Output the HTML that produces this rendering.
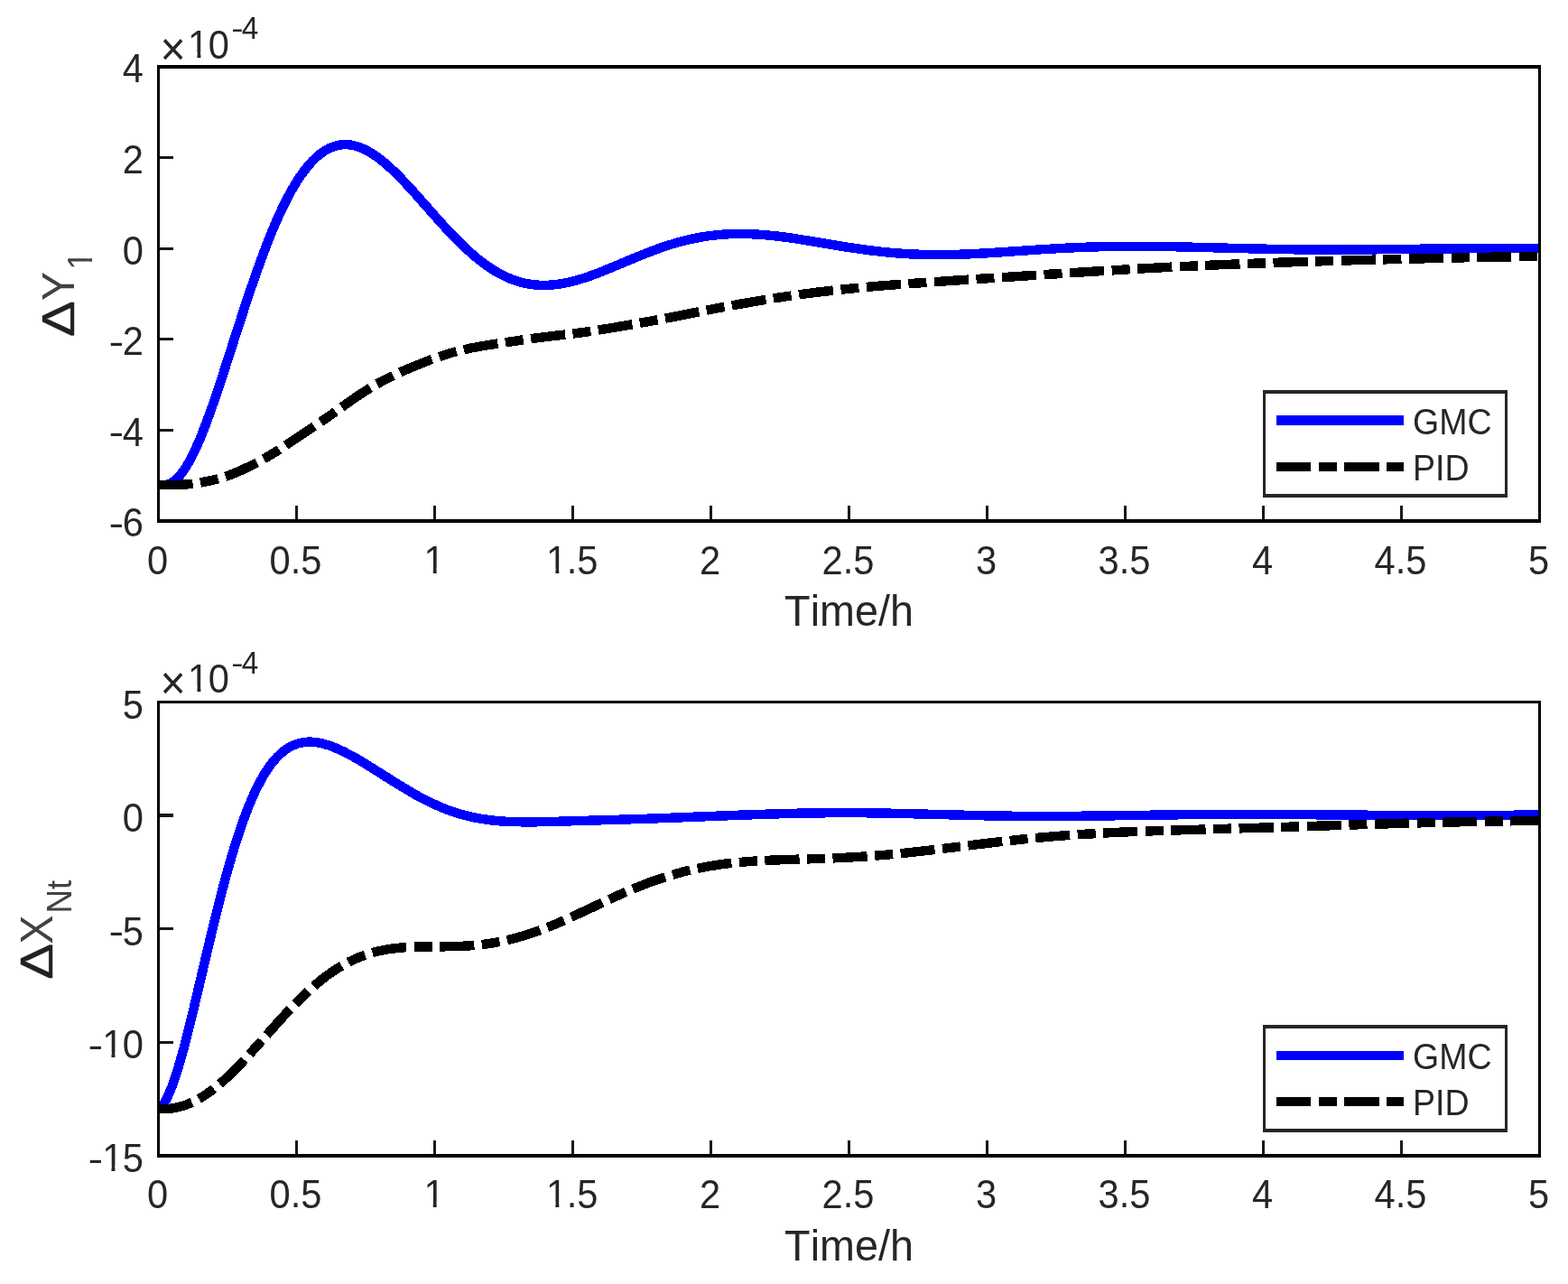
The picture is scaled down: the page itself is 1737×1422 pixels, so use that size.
<!DOCTYPE html>
<html lang="en">
<head>
<meta charset="utf-8">
<title>GMC vs PID response</title>
<style>
html,body{margin:0;padding:0;background:#fff;}
svg{display:block;}
text{font-family:"Liberation Sans", sans-serif;font-kerning:none;}
</style>
</head>
<body>
<svg width="1737" height="1422" viewBox="0 0 1737 1422">
<defs><clipPath id="one367"><path d="M-1.83,-33.76H25.66V-5.52H13.02V1.83H9.53V-5.52H-1.83Z"/></clipPath><clipPath id="one417"><path d="M-2.08,-38.38H29.17V-6.30H14.79V2.08H10.83V-6.30H-2.08Z"/></clipPath></defs>
<rect width="1737" height="1422" fill="#fff"/>
<clipPath id="c1"><rect x="175.5" y="74.0" width="1530.0" height="503.0"/></clipPath>
<g clip-path="url(#c1)" stroke="none" shape-rendering="crispEdges">
<path d="M169.5,542.2L181.5,542.2L185.2,542.1L186.5,541.8L189.4,540.7L191.0,540.0L193.9,538.4L197.4,535.8L200.1,533.3L200.7,532.7L204.0,529.0L207.2,524.8L210.4,520.0L214.1,513.8L216.6,509.1L219.7,502.9L223.3,495.2L226.3,488.1L229.4,480.7L232.4,472.9L235.4,464.8L238.4,456.5L241.4,447.9L248.0,428.6L254.0,410.2L269.0,363.5L275.5,343.5L281.5,325.4L287.4,308.0L293.9,289.9L299.4,275.3L302.4,267.7L305.8,259.1L308.8,252.0L311.8,245.2L314.7,238.6L317.7,232.3L321.2,225.3L324.1,219.6L326.6,215.1L330.0,209.1L332.9,204.3L335.9,199.8L338.8,195.5L341.7,191.6L345.0,187.4L347.9,184.1L350.7,181.1L353.5,178.4L356.3,175.9L359.1,173.8L362.2,171.7L364.6,170.2L367.3,168.9L370.3,167.6L372.9,166.7L375.5,166.1L378.1,165.6L380.8,165.4L383.4,165.4L386.0,165.5L388.7,165.9L391.7,166.5L394.4,167.3L397.1,168.3L399.9,169.4L402.7,170.7L405.5,172.2L408.3,173.8L411.1,175.6L414.0,177.6L417.3,180.1L420.2,182.3L423.1,184.7L426.0,187.3L431.9,192.6L437.8,198.4L444.2,205.0L450.1,211.4L456.1,218.0L477.6,242.3L487.1,253.0L496.2,262.7L501.8,268.4L505.3,272.0L508.9,275.5L514.5,280.7L521.1,286.6L526.7,291.2L530.3,294.1L536.5,298.6L539.6,300.7L543.2,303.1L546.3,305.0L549.5,306.8L552.6,308.5L556.3,310.3L558.8,311.5L562.0,312.9L565.1,314.2L568.2,315.3L572.0,316.5L575.1,317.5L578.3,318.3L581.4,319.0L585.2,319.7L587.7,320.1L590.9,320.5L594.1,320.8L597.8,321.0L600.9,321.1L604.1,321.1L607.8,321.0L613.5,320.6L619.7,319.9L623.4,319.3L629.6,318.1L635.8,316.6L642.0,314.9L648.1,313.0L654.7,310.8L660.8,308.6L667.4,306.1L676.0,302.6L704.0,290.9L712.9,287.2L718.9,284.9L727.8,281.5L734.2,279.2L740.1,277.2L746.5,275.2L755.3,272.7L764.2,270.5L770.5,269.1L778.9,267.5L785.2,266.5L794.0,265.5L800.4,264.9L809.2,264.4L818.5,264.2L824.4,264.2L830.3,264.4L836.2,264.6L842.1,265.0L848.0,265.5L854.5,266.1L866.3,267.5L878.7,269.2L893.7,271.6L924.6,276.8L939.7,279.2L954.8,281.4L967.4,283.0L976.4,284.0L983.0,284.7L992.1,285.5L998.1,286.0L1004.7,286.4L1013.8,286.8L1020.3,287.1L1028.9,287.3L1038.5,287.4L1050.6,287.3L1063.2,287.0L1075.2,286.5L1087.8,285.9L1099.8,285.2L1154.8,281.4L1170.3,280.5L1182.3,279.9L1197.7,279.1L1212.7,278.6L1225.6,278.3L1240.6,278.1L1252.5,278.0L1264.5,278.0L1289.4,278.2L1316.9,278.8L1374.9,280.3L1402.4,281.0L1432.9,281.5L1460.5,281.7L1488.0,281.7L1515.5,281.6L1604.6,280.7L1641.5,280.4L1675.0,280.2L1711.5,280.2L1711.5,269.8L1675.0,269.8L1641.5,269.9L1604.4,270.2L1515.5,271.1L1488.0,271.3L1460.5,271.2L1433.1,271.0L1402.6,270.5L1375.1,269.9L1317.1,268.4L1289.6,267.8L1264.5,267.5L1252.5,267.5L1240.4,267.6L1225.4,267.8L1212.3,268.2L1197.3,268.7L1181.7,269.4L1169.7,270.1L1154.2,271.0L1099.2,274.7L1087.2,275.4L1074.8,276.1L1062.8,276.5L1050.4,276.8L1038.5,276.9L1029.1,276.8L1020.7,276.6L1014.2,276.4L1005.3,275.9L998.9,275.5L992.9,275.1L984.0,274.3L977.6,273.7L968.6,272.6L956.2,271.0L941.3,268.8L926.4,266.4L895.3,261.3L880.3,258.9L867.7,257.1L855.5,255.7L849.0,255.1L842.9,254.6L836.8,254.2L830.7,253.9L824.6,253.7L818.5,253.7L814.9,253.8L808.8,253.9L799.6,254.5L793.0,255.1L783.8,256.2L777.1,257.2L768.5,258.8L761.8,260.3L752.7,262.6L743.5,265.2L736.9,267.3L730.8,269.3L724.2,271.7L715.1,275.1L709.1,277.5L700.0,281.2L672.0,292.9L663.6,296.3L657.2,298.8L651.3,300.9L644.9,303.1L639.0,304.9L633.2,306.5L627.4,307.9L621.6,309.0L618.3,309.5L612.5,310.2L606.8,310.6L603.9,310.7L601.1,310.7L598.2,310.6L594.9,310.4L592.1,310.1L589.7,309.8L586.4,309.3L583.6,308.8L580.7,308.1L577.9,307.4L575.0,306.5L571.8,305.5L568.9,304.4L566.0,303.3L563.6,302.2L560.3,300.7L557.4,299.2L554.1,297.4L548.8,294.2L545.4,292.0L542.5,290.0L537.1,286.1L533.7,283.5L527.4,278.2L524.5,275.7L519.1,270.7L512.7,264.6L509.7,261.6L503.8,255.5L497.8,249.2L491.4,242.1L485.4,235.4L467.4,215.0L460.9,207.7L451.8,197.9L445.2,191.0L439.1,185.1L433.0,179.4L429.9,176.8L426.8,174.2L423.7,171.8L420.0,169.1L416.9,166.9L413.7,164.9L410.5,163.0L407.3,161.3L404.1,159.8L400.9,158.5L397.0,157.2L393.7,156.3L390.3,155.6L387.0,155.1L384.3,155.0L380.2,155.0L376.9,155.3L374.1,155.7L372.8,156.0L370.1,156.7L366.7,157.8L362.7,159.4L359.4,161.1L356.1,163.1L352.9,165.4L349.7,167.9L345.9,171.2L342.7,174.3L340.1,177.1L337.5,180.1L333.9,184.6L330.8,188.7L327.1,194.0L324.1,198.7L321.0,203.8L317.4,210.1L314.9,214.7L311.8,220.6L308.8,226.7L305.3,234.2L302.2,240.9L299.2,247.9L296.2,255.1L293.1,262.6L289.6,271.6L284.1,286.3L277.6,304.6L274.6,313.3L268.5,331.1L259.5,358.7L241.0,416.2L235.0,434.3L232.1,443.0L228.6,453.0L225.6,461.2L222.6,469.2L219.6,476.8L216.7,484.1L213.2,492.0L210.3,498.4L207.4,504.2L204.5,509.6L201.6,514.4L198.8,518.7L196.0,522.3L193.3,525.4L190.6,527.8L187.9,529.8L185.7,531.0L183.5,531.8L183.8,531.7L169.5,531.8Z" fill="#0000ff"/>
<path d="M175.5,542.2L191.0,542.2L200.2,542.0L206.9,541.6L210.0,541.4L214.3,540.9L213.0,530.5L209.0,531.0L205.6,531.2L199.3,531.6L191.0,531.8L175.5,531.8ZM223.0,539.6L228.5,538.6L234.6,537.3L238.3,536.4L243.0,535.2L240.3,525.1L235.7,526.3L232.4,527.1L226.5,528.3L221.1,529.3ZM251.4,532.7L256.8,530.8L259.9,529.6L263.5,528.1L269.1,525.7L275.2,522.9L278.8,521.2L287.1,517.0L282.3,507.7L274.2,511.8L264.9,516.1L259.5,518.5L256.1,519.8L253.2,521.0L248.1,522.8ZM294.8,512.8L303.7,507.6L312.1,502.3L306.5,493.5L298.3,498.6L289.6,503.7ZM319.3,497.6L351.1,476.4L345.3,467.7L313.6,488.9ZM358.2,471.6L365.5,466.6L374.7,460.1L368.7,451.6L359.5,458.0L352.3,463.0ZM381.7,455.2L392.5,447.5L398.9,443.1L404.9,439.1L413.0,434.0L407.6,425.1L399.1,430.4L393.1,434.4L386.5,438.9L375.6,446.6ZM420.2,429.8L425.5,426.9L428.9,425.1L437.7,420.7L433.1,411.3L424.1,415.8L420.5,417.7L415.1,420.7ZM445.3,417.2L453.1,413.7L462.0,410.0L471.4,406.2L480.3,402.8L476.6,393.0L467.6,396.5L458.0,400.3L448.9,404.1L441.0,407.6ZM488.2,400.0L492.6,398.5L498.0,396.8L501.4,395.8L507.0,394.3L504.3,384.2L498.6,385.8L495.0,386.8L489.4,388.6L484.8,390.1ZM515.1,392.3L522.5,390.7L531.4,389.0L540.3,387.5L552.3,385.7L550.7,375.3L538.7,377.2L529.6,378.7L520.5,380.5L512.7,382.1ZM560.7,384.4L580.5,381.5L579.0,371.1L559.1,374.1ZM588.9,380.3L604.6,378.3L626.7,375.7L625.5,365.3L603.4,367.9L587.4,369.9ZM635.1,374.7L644.7,373.5L655.1,372.0L653.6,361.7L643.3,363.1L633.9,364.3ZM663.6,370.7L678.4,368.3L701.3,364.4L699.6,354.1L676.6,358.0L662.0,360.4ZM709.7,362.9L729.5,359.4L727.6,349.1L707.9,352.6ZM737.9,357.8L752.0,355.1L775.4,350.4L773.4,340.1L750.0,344.8L736.0,347.6ZM783.7,348.7L803.4,345.0L801.5,334.7L781.7,338.5ZM811.7,343.5L830.9,340.1L849.3,337.0L847.6,326.7L829.1,329.8L809.9,333.2ZM857.6,335.6L877.4,332.6L875.9,322.3L856.0,325.3ZM885.8,331.4L904.1,329.1L923.5,326.8L922.4,316.4L902.9,318.7L884.3,321.1ZM932.0,325.9L951.9,323.9L950.9,313.5L930.9,315.5ZM960.3,323.1L977.9,321.6L998.3,320.0L997.5,309.6L977.1,311.2L959.4,312.7ZM1006.8,319.4L1026.8,318.0L1026.0,307.5L1006.0,309.0ZM1035.2,317.4L1073.3,314.8L1072.6,304.4L1034.5,307.0ZM1081.8,314.3L1101.8,313.0L1101.1,302.5L1081.1,303.8ZM1110.3,312.4L1148.4,309.9L1147.7,299.5L1109.6,302.0ZM1156.9,309.4L1176.9,308.1L1176.2,297.6L1156.2,298.9ZM1185.4,307.5L1223.5,305.1L1222.8,294.7L1184.7,297.1ZM1232.0,304.6L1252.0,303.4L1251.4,293.0L1231.3,294.2ZM1260.4,302.9L1298.6,300.9L1298.0,290.4L1259.9,292.5ZM1307.0,300.5L1327.1,299.5L1326.6,289.1L1306.5,290.0ZM1335.5,299.1L1373.7,297.5L1373.3,287.1L1335.1,288.7ZM1382.2,297.2L1402.2,296.5L1401.8,286.0L1381.8,286.8ZM1410.7,296.2L1448.8,294.9L1448.5,284.5L1410.3,285.7ZM1457.3,294.7L1477.4,294.1L1477.1,283.6L1457.0,284.2ZM1485.9,293.8L1524.0,292.8L1523.8,282.4L1485.6,283.4ZM1532.5,292.6L1552.6,292.1L1552.3,281.6L1532.3,282.1ZM1561.1,291.9L1599.2,291.0L1599.0,280.6L1560.8,281.4ZM1607.7,290.8L1627.8,290.4L1627.6,279.9L1607.5,280.4ZM1636.3,290.2L1674.5,289.5L1674.3,279.1L1636.1,279.8ZM1682.9,289.4L1703.0,289.1L1702.8,278.6L1682.8,278.9ZM1711.4,289.0L1711.5,289.0L1711.5,278.6L1711.4,278.6Z" fill="#000"/>
</g>
<g fill="#000" shape-rendering="crispEdges">
<rect x="174" y="72" width="3" height="507"/>
<rect x="1704" y="72" width="3" height="507"/>
<rect x="174" y="72" width="1533" height="4"/>
<rect x="174" y="575" width="1533" height="4"/>
</g>
<g fill="#181818" shape-rendering="crispEdges">
<rect x="327.0" y="560" width="3" height="15"/>
<rect x="480.0" y="560" width="3" height="15"/>
<rect x="633.0" y="560" width="3" height="15"/>
<rect x="786.0" y="560" width="3" height="15"/>
<rect x="939.0" y="560" width="3" height="15"/>
<rect x="1092.0" y="560" width="3" height="15"/>
<rect x="1245.0" y="560" width="3" height="15"/>
<rect x="1398.0" y="560" width="3" height="15"/>
<rect x="1551.0" y="560" width="3" height="15"/>
<rect x="177" y="173" width="15" height="3"/>
<rect x="177" y="274" width="15" height="3"/>
<rect x="177" y="374" width="15" height="3"/>
<rect x="177" y="475" width="15" height="3"/>
</g>
<text transform="translate(162.91,635.80) scale(1,1.06)" font-size="41.67" text-anchor="start" fill="#262626">0</text>
<text transform="translate(298.54,635.80) scale(1,1.06)" font-size="41.67" text-anchor="start" fill="#262626">0</text><text transform="translate(321.71,635.80) scale(1,1.06)" font-size="41.67" text-anchor="start" fill="#262626" y="-0.86">.</text><text transform="translate(333.29,635.80) scale(1,1.06)" font-size="41.67" text-anchor="start" fill="#262626">5</text>
<g transform="translate(468.91,635.80) scale(1,1.044)"><text x="0.50" y="-0.88" font-size="41.67" fill="#262626" clip-path="url(#one417)" style="text-rendering:geometricPrecision">1</text></g>
<g transform="translate(604.54,635.80) scale(1,1.044)"><text x="0.50" y="-0.88" font-size="41.67" fill="#262626" clip-path="url(#one417)" style="text-rendering:geometricPrecision">1</text></g><text transform="translate(627.71,635.80) scale(1,1.06)" font-size="41.67" text-anchor="start" fill="#262626" y="-0.86">.</text><text transform="translate(639.29,635.80) scale(1,1.06)" font-size="41.67" text-anchor="start" fill="#262626">5</text>
<text transform="translate(774.91,635.80) scale(1,1.06)" font-size="41.67" text-anchor="start" fill="#262626">2</text>
<text transform="translate(910.54,635.80) scale(1,1.06)" font-size="41.67" text-anchor="start" fill="#262626">2</text><text transform="translate(933.71,635.80) scale(1,1.06)" font-size="41.67" text-anchor="start" fill="#262626" y="-0.86">.</text><text transform="translate(945.29,635.80) scale(1,1.06)" font-size="41.67" text-anchor="start" fill="#262626">5</text>
<text transform="translate(1080.91,635.80) scale(1,1.06)" font-size="41.67" text-anchor="start" fill="#262626">3</text>
<text transform="translate(1216.54,635.80) scale(1,1.06)" font-size="41.67" text-anchor="start" fill="#262626">3</text><text transform="translate(1239.71,635.80) scale(1,1.06)" font-size="41.67" text-anchor="start" fill="#262626" y="-0.86">.</text><text transform="translate(1251.29,635.80) scale(1,1.06)" font-size="41.67" text-anchor="start" fill="#262626">5</text>
<text transform="translate(1386.91,635.80) scale(1,1.06)" font-size="41.67" text-anchor="start" fill="#262626">4</text>
<text transform="translate(1522.54,635.80) scale(1,1.06)" font-size="41.67" text-anchor="start" fill="#262626">4</text><text transform="translate(1545.71,635.80) scale(1,1.06)" font-size="41.67" text-anchor="start" fill="#262626" y="-0.86">.</text><text transform="translate(1557.29,635.80) scale(1,1.06)" font-size="41.67" text-anchor="start" fill="#262626">5</text>
<text transform="translate(1692.91,635.80) scale(1,1.06)" font-size="41.67" text-anchor="start" fill="#262626">5</text>
<text transform="translate(135.83,91.40) scale(1,1.06)" font-size="41.67" text-anchor="start" fill="#262626">4</text>
<text transform="translate(135.83,192.00) scale(1,1.06)" font-size="41.67" text-anchor="start" fill="#262626">2</text>
<text transform="translate(135.83,292.60) scale(1,1.06)" font-size="41.67" text-anchor="start" fill="#262626">0</text>
<text transform="translate(120.56,391.70) scale(1.2,0.954)" font-size="41.67" text-anchor="start" fill="#262626">-</text><text transform="translate(135.83,393.20) scale(1,1.06)" font-size="41.67" text-anchor="start" fill="#262626">2</text>
<text transform="translate(120.56,492.30) scale(1.2,0.954)" font-size="41.67" text-anchor="start" fill="#262626">-</text><text transform="translate(135.83,493.80) scale(1,1.06)" font-size="41.67" text-anchor="start" fill="#262626">4</text>
<text transform="translate(120.56,592.90) scale(1.2,0.954)" font-size="41.67" text-anchor="start" fill="#262626">-</text><text transform="translate(135.83,594.40) scale(1,1.06)" font-size="41.67" text-anchor="start" fill="#262626">6</text>
<text transform="translate(940.50,692.60) scale(1.02,1.06)" font-size="45.83" text-anchor="middle" fill="#262626">Time/h</text>
<g><text transform="translate(177.40,71.50) scale(1,1.06)" font-size="48.337199999999996" text-anchor="start" fill="#262626">×</text><g transform="translate(207.60,64.80) scale(1,1.044)"><text x="0.50" y="-0.88" font-size="41.67" fill="#262626" clip-path="url(#one417)" style="text-rendering:geometricPrecision">1</text></g><text transform="translate(230.77,64.80) scale(1,1.06)" font-size="41.67" text-anchor="start" fill="#262626">0</text><text transform="translate(256.29,42.20) scale(1.2,0.954)" font-size="33.3" text-anchor="start" fill="#262626">-</text><text transform="translate(267.69,43.40) scale(1,1.06)" font-size="33.3" text-anchor="start" fill="#262626">4</text></g>
<g><text transform="translate(81.80,373.00) rotate(-90) scale(1.3,1.1)" font-size="45.83" text-anchor="start" fill="#222" stroke="#222" stroke-width="0.4">Δ</text><text transform="translate(81.50,332.90) rotate(-90) scale(1.05,1.08)" font-size="45.83" text-anchor="start" fill="#424242">Y</text><g transform="translate(102.30,299.30) rotate(-90) scale(1,1.064)"><text x="0.44" y="-0.76" font-size="36.664" fill="#424242" clip-path="url(#one367)" style="text-rendering:geometricPrecision">1</text></g></g>
<rect x="1400.5" y="434" width="268.0" height="115" fill="#fff" stroke="#262626" stroke-width="3.5" shape-rendering="crispEdges"/>
<g shape-rendering="crispEdges">
<rect x="1414" y="460" width="141" height="11" fill="#0000ff"/>
<rect x="1414" y="512" width="38" height="10" fill="#000"/>
<rect x="1461" y="512" width="20" height="10" fill="#000"/>
<rect x="1489" y="512" width="39" height="10" fill="#000"/>
<rect x="1536" y="512" width="19" height="10" fill="#000"/>
</g>
<text transform="translate(1565.10,480.60) scale(1,1.06)" font-size="37.5" text-anchor="start" fill="#262626">GMC</text>
<text transform="translate(1565.10,532.20) scale(1,1.06)" font-size="37.5" text-anchor="start" fill="#262626">PID</text>
<clipPath id="c2"><rect x="175.5" y="777.5" width="1530.0" height="502.5"/></clipPath>
<g clip-path="url(#c2)" stroke="none" shape-rendering="crispEdges">
<path d="M169.5,1233.3L175.0,1233.3L177.0,1233.1L179.1,1231.9L182.0,1229.7L183.1,1228.5L185.8,1225.1L189.1,1219.5L192.3,1212.8L195.9,1203.7L199.0,1194.9L202.0,1185.4L205.0,1175.2L208.6,1162.4L211.1,1152.9L214.1,1141.1L220.6,1114.4L235.6,1050.7L241.6,1025.7L248.1,999.6L251.1,988.0L254.0,976.8L257.0,965.9L260.0,955.4L263.0,945.3L266.0,935.6L269.0,926.3L272.4,916.1L275.4,907.8L278.4,899.9L281.3,892.5L284.3,885.6L287.2,879.1L290.2,873.0L293.6,866.6L296.5,861.5L299.4,856.8L302.3,852.5L305.1,848.6L308.0,845.2L310.8,842.0L314.0,838.9L316.7,836.5L319.5,834.5L321.8,832.9L324.9,831.2L327.5,829.9L330.2,828.9L332.8,828.1L335.5,827.5L338.5,827.1L341.2,826.9L343.9,826.9L346.6,827.0L349.3,827.3L352.1,827.7L354.9,828.3L357.7,829.0L360.5,829.8L363.3,830.7L366.6,831.9L369.5,833.1L375.3,835.6L381.1,838.5L384.5,840.2L390.4,843.5L396.3,846.9L402.3,850.5L408.2,854.2L429.7,867.8L439.3,873.7L448.3,879.2L457.4,884.5L463.5,887.8L467.1,889.7L475.7,894.0L482.9,897.2L488.5,899.6L491.6,900.8L498.3,903.3L503.9,905.2L507.5,906.3L511.1,907.3L516.7,908.8L523.4,910.3L529.0,911.4L532.6,912.1L536.3,912.6L541.9,913.4L545.4,913.8L551.6,914.4L560.7,915.0L570.4,915.4L582.5,915.6L595.1,915.5L613.1,915.1L692.7,912.7L720.7,911.8L751.2,910.7L818.7,908.0L852.2,906.8L870.1,906.3L888.6,905.9L906.6,905.6L922.0,905.4L934.5,905.4L949.5,905.4L976.9,905.7L1004.4,906.3L1062.9,907.8L1090.4,908.5L1120.9,908.9L1148.5,909.1L1173.0,909.1L1197.5,908.9L1222.1,908.7L1304.6,907.5L1332.5,907.3L1360.0,907.1L1384.5,907.1L1412.0,907.2L1515.5,907.9L1565.0,908.2L1620.0,908.1L1711.5,907.8L1711.5,897.4L1620.0,897.7L1565.0,897.7L1515.5,897.5L1412.0,896.8L1384.5,896.7L1360.0,896.7L1332.5,896.8L1304.4,897.1L1221.9,898.2L1197.5,898.5L1173.0,898.7L1148.5,898.7L1121.1,898.5L1090.6,898.0L1063.1,897.4L1004.6,895.9L977.1,895.3L949.5,895.0L934.5,894.9L922.0,895.0L906.4,895.1L888.4,895.4L869.9,895.8L851.8,896.4L818.3,897.5L750.8,900.2L720.3,901.4L692.3,902.3L612.9,904.7L594.9,905.1L582.5,905.1L570.6,905.0L561.3,904.6L552.4,904.0L543.6,903.1L540.2,902.6L534.4,901.7L528.0,900.6L522.6,899.5L519.3,898.7L513.9,897.2L510.5,896.3L504.2,894.3L498.8,892.4L495.9,891.3L489.5,888.7L486.6,887.4L480.7,884.8L477.3,883.1L471.9,880.4L468.5,878.6L462.6,875.4L453.7,870.2L444.7,864.8L435.3,858.9L413.8,845.3L407.7,841.6L401.7,837.9L395.1,834.1L388.9,830.8L382.8,827.6L379.2,825.9L373.5,823.4L370.4,822.2L366.7,820.8L363.5,819.8L360.3,818.9L357.1,818.1L353.9,817.4L350.7,816.9L347.4,816.6L343.5,816.4L340.2,816.5L337.5,816.7L333.5,817.3L330.2,818.0L327.5,818.8L326.8,819.0L323.5,820.3L320.1,821.9L316.2,824.1L313.5,825.9L310.8,827.9L309.6,828.8L307.0,831.1L303.2,834.8L300.0,838.4L296.9,842.2L293.2,847.3L290.6,851.1L287.5,856.1L284.4,861.5L280.8,868.4L277.8,874.6L274.7,881.4L271.7,888.5L268.6,896.1L265.6,904.1L262.6,912.6L259.0,923.1L256.0,932.4L253.0,942.3L250.0,952.5L247.0,963.1L244.0,974.0L240.9,985.4L237.9,997.0L231.4,1023.2L225.4,1048.2L210.4,1111.9L203.9,1138.5L200.9,1150.3L198.0,1161.6L195.0,1172.3L192.0,1182.4L189.0,1191.7L186.1,1200.1L182.7,1208.5L179.9,1214.5L177.2,1219.1L174.9,1221.9L175.0,1222.0L172.9,1223.5L174.0,1223.0L175.0,1222.8L169.5,1222.8Z" fill="#0000ff"/>
<path d="M175.4,1233.3L178.4,1233.4L181.0,1233.4L184.8,1233.2L188.0,1233.0L190.6,1232.7L195.0,1232.0L198.2,1231.3L200.8,1230.7L204.6,1229.6L207.7,1228.5L210.9,1227.3L214.8,1225.6L210.4,1216.1L207.1,1217.6L204.3,1218.7L201.4,1219.6L198.6,1220.4L195.8,1221.1L193.0,1221.7L189.8,1222.2L187.0,1222.6L184.2,1222.8L181.4,1222.9L179.0,1222.9L175.6,1222.8ZM222.8,1221.6L227.3,1218.9L230.4,1216.9L233.5,1214.8L236.6,1212.6L240.1,1210.0L233.6,1201.7L230.4,1204.2L227.5,1206.2L224.6,1208.2L221.7,1210.1L217.7,1212.4ZM246.8,1204.4L252.5,1199.4L259.2,1193.2L262.2,1190.2L267.8,1184.5L274.6,1177.3L266.9,1170.2L260.2,1177.3L254.8,1182.8L251.8,1185.7L245.5,1191.7L240.0,1196.5ZM280.3,1171.0L293.8,1156.0L285.9,1149.1L272.6,1164.0ZM299.4,1149.7L313.9,1133.4L319.8,1126.9L324.9,1121.5L317.3,1114.3L312.2,1119.8L306.1,1126.4L291.6,1142.7ZM330.7,1115.4L338.1,1108.0L344.9,1101.6L337.8,1093.9L330.9,1100.5L323.3,1108.1ZM351.1,1096.1L356.3,1091.7L359.3,1089.3L365.6,1084.4L371.0,1080.6L373.9,1078.7L377.3,1076.5L381.1,1074.2L375.9,1065.1L371.7,1067.6L368.1,1070.0L364.5,1072.4L359.4,1076.0L355.8,1078.7L352.7,1081.1L349.7,1083.6L344.3,1088.2ZM388.4,1070.2L392.2,1068.3L397.6,1065.9L400.9,1064.5L406.1,1062.6L402.6,1052.8L397.1,1054.8L393.4,1056.3L387.8,1058.9L383.6,1060.9ZM413.9,1060.2L418.3,1059.0L421.6,1058.2L427.0,1057.1L430.3,1056.5L436.2,1055.7L439.6,1055.3L445.0,1054.8L450.5,1054.3L449.8,1043.9L444.0,1044.3L438.4,1044.9L434.8,1045.3L428.7,1046.2L425.0,1046.9L419.4,1048.0L415.7,1048.9L411.1,1050.1ZM458.8,1053.9L466.6,1053.7L478.7,1053.6L478.7,1043.2L466.4,1043.3L458.5,1043.5ZM487.2,1053.6L499.6,1053.4L509.2,1053.2L518.3,1052.7L525.8,1052.1L524.9,1041.7L517.7,1042.3L508.8,1042.7L499.4,1043.0L487.2,1043.1ZM534.4,1051.3L540.2,1050.5L543.8,1050.0L549.4,1049.1L554.6,1048.1L552.6,1037.9L548.1,1038.7L542.2,1039.7L533.2,1040.9ZM563.1,1046.3L571.9,1044.1L581.0,1041.5L590.2,1038.6L600.3,1035.0L596.6,1025.2L586.8,1028.7L578.0,1031.5L569.1,1034.0L560.7,1036.1ZM608.3,1031.9L618.0,1027.9L627.0,1024.1L622.8,1014.5L614.0,1018.3L604.5,1022.2ZM634.8,1020.6L646.2,1015.3L669.5,1004.4L665.0,994.9L641.8,1005.8L630.5,1011.0ZM677.1,1000.8L685.6,997.0L695.3,992.7L691.2,983.1L681.4,987.4L672.8,991.4ZM703.1,989.4L712.9,985.4L721.8,982.0L730.7,978.8L738.5,976.3L735.3,966.3L727.3,969.0L718.2,972.2L709.1,975.7L699.1,979.8ZM746.5,973.8L755.3,971.3L761.3,969.8L765.6,968.7L763.2,958.6L758.7,959.6L752.7,961.2L743.5,963.8ZM773.7,966.9L782.4,965.2L791.3,963.7L800.7,962.3L811.0,961.0L809.8,950.6L799.3,951.9L789.7,953.3L780.6,954.9L771.6,956.7ZM819.3,960.2L827.9,959.4L839.2,958.7L838.5,948.2L827.1,949.0L818.4,949.8ZM847.6,958.2L864.2,957.5L885.7,956.8L885.4,946.4L863.8,947.0L847.1,947.8ZM894.2,956.6L914.2,955.9L913.9,945.5L893.8,946.1ZM922.7,955.6L943.8,954.6L961.0,953.5L960.3,943.1L943.2,944.2L922.3,945.2ZM969.6,952.9L980.4,952.0L989.6,951.2L988.6,940.8L979.6,941.6L968.7,942.5ZM998.1,950.4L1014.6,948.6L1036.2,946.2L1034.9,935.8L1013.4,938.3L997.1,940.0ZM1044.6,945.1L1064.5,942.7L1063.3,932.3L1043.4,934.8ZM1073.0,941.6L1094.1,939.1L1110.8,937.1L1109.7,926.7L1092.9,928.7L1071.7,931.3ZM1119.3,936.2L1139.2,934.1L1138.1,923.7L1118.1,925.8ZM1147.6,933.2L1167.4,931.5L1185.6,930.1L1184.8,919.7L1166.6,921.1L1146.6,922.8ZM1194.0,929.5L1214.0,928.3L1213.4,917.8L1193.3,919.1ZM1222.4,927.8L1240.7,926.9L1260.5,926.1L1260.1,915.6L1240.3,916.5L1221.9,917.4ZM1269.0,925.8L1289.0,925.1L1288.7,914.6L1268.6,915.3ZM1297.5,924.8L1335.7,923.7L1335.4,913.3L1297.2,914.4ZM1344.2,923.5L1364.2,922.9L1363.9,912.4L1343.9,913.0ZM1372.7,922.6L1410.9,921.5L1410.6,911.0L1372.4,912.2ZM1419.4,921.2L1439.4,920.6L1439.1,910.1L1419.1,910.8ZM1447.9,920.3L1486.1,919.1L1485.8,908.6L1447.6,909.9ZM1494.6,918.8L1514.6,918.2L1514.3,907.8L1494.3,908.4ZM1523.1,917.9L1561.3,916.9L1561.0,906.4L1522.8,907.5ZM1569.8,916.6L1589.8,916.1L1589.6,905.7L1569.5,906.2ZM1598.3,915.9L1636.5,915.1L1636.3,904.7L1598.1,905.5ZM1645.0,915.0L1665.0,914.6L1664.9,904.2L1644.8,904.5ZM1673.5,914.5L1705.5,914.0L1711.5,914.0L1711.5,903.5L1705.5,903.5L1673.4,904.0Z" fill="#000"/>
</g>
<g fill="#000" shape-rendering="crispEdges">
<rect x="174" y="776" width="3" height="506"/>
<rect x="1704" y="776" width="3" height="506"/>
<rect x="174" y="776" width="1533" height="3"/>
<rect x="174" y="1278" width="1533" height="4"/>
</g>
<g fill="#181818" shape-rendering="crispEdges">
<rect x="327.0" y="1263" width="3" height="15"/>
<rect x="480.0" y="1263" width="3" height="15"/>
<rect x="633.0" y="1263" width="3" height="15"/>
<rect x="786.0" y="1263" width="3" height="15"/>
<rect x="939.0" y="1263" width="3" height="15"/>
<rect x="1092.0" y="1263" width="3" height="15"/>
<rect x="1245.0" y="1263" width="3" height="15"/>
<rect x="1398.0" y="1263" width="3" height="15"/>
<rect x="1551.0" y="1263" width="3" height="15"/>
<rect x="177" y="901" width="15" height="4"/>
<rect x="177" y="1027" width="15" height="3"/>
<rect x="177" y="1153" width="15" height="3"/>
</g>
<text transform="translate(162.91,1337.80) scale(1,1.06)" font-size="41.67" text-anchor="start" fill="#262626">0</text>
<text transform="translate(298.54,1337.80) scale(1,1.06)" font-size="41.67" text-anchor="start" fill="#262626">0</text><text transform="translate(321.71,1337.80) scale(1,1.06)" font-size="41.67" text-anchor="start" fill="#262626" y="-0.86">.</text><text transform="translate(333.29,1337.80) scale(1,1.06)" font-size="41.67" text-anchor="start" fill="#262626">5</text>
<g transform="translate(468.91,1337.80) scale(1,1.044)"><text x="0.50" y="-0.88" font-size="41.67" fill="#262626" clip-path="url(#one417)" style="text-rendering:geometricPrecision">1</text></g>
<g transform="translate(604.54,1337.80) scale(1,1.044)"><text x="0.50" y="-0.88" font-size="41.67" fill="#262626" clip-path="url(#one417)" style="text-rendering:geometricPrecision">1</text></g><text transform="translate(627.71,1337.80) scale(1,1.06)" font-size="41.67" text-anchor="start" fill="#262626" y="-0.86">.</text><text transform="translate(639.29,1337.80) scale(1,1.06)" font-size="41.67" text-anchor="start" fill="#262626">5</text>
<text transform="translate(774.91,1337.80) scale(1,1.06)" font-size="41.67" text-anchor="start" fill="#262626">2</text>
<text transform="translate(910.54,1337.80) scale(1,1.06)" font-size="41.67" text-anchor="start" fill="#262626">2</text><text transform="translate(933.71,1337.80) scale(1,1.06)" font-size="41.67" text-anchor="start" fill="#262626" y="-0.86">.</text><text transform="translate(945.29,1337.80) scale(1,1.06)" font-size="41.67" text-anchor="start" fill="#262626">5</text>
<text transform="translate(1080.91,1337.80) scale(1,1.06)" font-size="41.67" text-anchor="start" fill="#262626">3</text>
<text transform="translate(1216.54,1337.80) scale(1,1.06)" font-size="41.67" text-anchor="start" fill="#262626">3</text><text transform="translate(1239.71,1337.80) scale(1,1.06)" font-size="41.67" text-anchor="start" fill="#262626" y="-0.86">.</text><text transform="translate(1251.29,1337.80) scale(1,1.06)" font-size="41.67" text-anchor="start" fill="#262626">5</text>
<text transform="translate(1386.91,1337.80) scale(1,1.06)" font-size="41.67" text-anchor="start" fill="#262626">4</text>
<text transform="translate(1522.54,1337.80) scale(1,1.06)" font-size="41.67" text-anchor="start" fill="#262626">4</text><text transform="translate(1545.71,1337.80) scale(1,1.06)" font-size="41.67" text-anchor="start" fill="#262626" y="-0.86">.</text><text transform="translate(1557.29,1337.80) scale(1,1.06)" font-size="41.67" text-anchor="start" fill="#262626">5</text>
<text transform="translate(1692.91,1337.80) scale(1,1.06)" font-size="41.67" text-anchor="start" fill="#262626">5</text>
<text transform="translate(135.83,795.50) scale(1,1.06)" font-size="41.67" text-anchor="start" fill="#262626">5</text>
<text transform="translate(135.83,921.12) scale(1,1.06)" font-size="41.67" text-anchor="start" fill="#262626">0</text>
<text transform="translate(120.56,1045.25) scale(1.2,0.954)" font-size="41.67" text-anchor="start" fill="#262626">-</text><text transform="translate(135.83,1046.75) scale(1,1.06)" font-size="41.67" text-anchor="start" fill="#262626">5</text>
<text transform="translate(97.39,1170.87) scale(1.2,0.954)" font-size="41.67" text-anchor="start" fill="#262626">-</text><g transform="translate(112.65,1172.38) scale(1,1.044)"><text x="0.50" y="-0.88" font-size="41.67" fill="#262626" clip-path="url(#one417)" style="text-rendering:geometricPrecision">1</text></g><text transform="translate(135.83,1172.38) scale(1,1.06)" font-size="41.67" text-anchor="start" fill="#262626">0</text>
<text transform="translate(97.39,1296.50) scale(1.2,0.954)" font-size="41.67" text-anchor="start" fill="#262626">-</text><g transform="translate(112.65,1298.00) scale(1,1.044)"><text x="0.50" y="-0.88" font-size="41.67" fill="#262626" clip-path="url(#one417)" style="text-rendering:geometricPrecision">1</text></g><text transform="translate(135.83,1298.00) scale(1,1.06)" font-size="41.67" text-anchor="start" fill="#262626">5</text>
<text transform="translate(940.50,1395.60) scale(1.02,1.06)" font-size="45.83" text-anchor="middle" fill="#262626">Time/h</text>
<g><text transform="translate(177.40,774.10) scale(1,1.06)" font-size="48.337199999999996" text-anchor="start" fill="#262626">×</text><g transform="translate(207.60,767.40) scale(1,1.044)"><text x="0.50" y="-0.88" font-size="41.67" fill="#262626" clip-path="url(#one417)" style="text-rendering:geometricPrecision">1</text></g><text transform="translate(230.77,767.40) scale(1,1.06)" font-size="41.67" text-anchor="start" fill="#262626">0</text><text transform="translate(256.29,744.80) scale(1.2,0.954)" font-size="33.3" text-anchor="start" fill="#262626">-</text><text transform="translate(267.69,746.00) scale(1,1.06)" font-size="33.3" text-anchor="start" fill="#262626">4</text></g>
<g><text transform="translate(58.30,1084.70) rotate(-90) scale(1.3,1.1)" font-size="45.83" text-anchor="start" fill="#222" stroke="#222" stroke-width="0.4">Δ</text><text transform="translate(58.00,1045.60) rotate(-90) scale(1.05,1.08)" font-size="45.83" text-anchor="start" fill="#424242">X</text><text transform="translate(78.80,1011.50) rotate(-90) scale(1,1.08)" font-size="36.664" text-anchor="start" fill="#424242">Nt</text></g>
<rect x="1400.5" y="1137" width="268.0" height="115" fill="#fff" stroke="#262626" stroke-width="3.5" shape-rendering="crispEdges"/>
<g shape-rendering="crispEdges">
<rect x="1414" y="1164" width="141" height="10" fill="#0000ff"/>
<rect x="1414" y="1215" width="38" height="10" fill="#000"/>
<rect x="1461" y="1215" width="20" height="10" fill="#000"/>
<rect x="1489" y="1215" width="39" height="10" fill="#000"/>
<rect x="1536" y="1215" width="19" height="10" fill="#000"/>
</g>
<text transform="translate(1565.10,1183.60) scale(1,1.06)" font-size="37.5" text-anchor="start" fill="#262626">GMC</text>
<text transform="translate(1565.10,1235.20) scale(1,1.06)" font-size="37.5" text-anchor="start" fill="#262626">PID</text>
</svg>
</body>
</html>
